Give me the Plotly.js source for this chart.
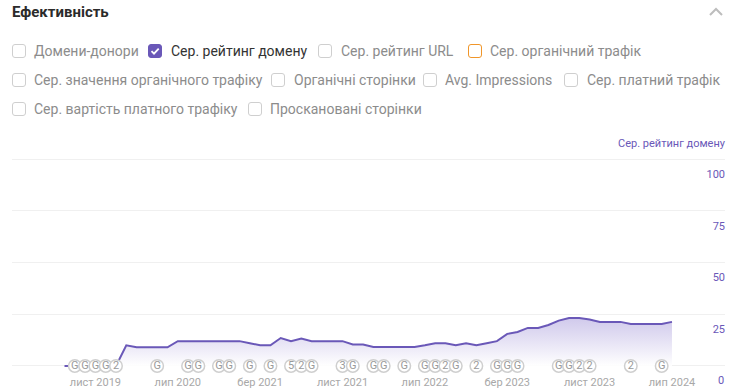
<!DOCTYPE html>
<html><head><meta charset="utf-8">
<script src="https://cdn.plot.ly/plotly-3.0.1.min.js"></script>
<style>
html,body{margin:0;padding:0;background:#fff;width:737px;height:392px;overflow:hidden;font-family:Roboto,Arial,sans-serif}
#chart{position:absolute;left:0;top:0;width:737px;height:392px}
.t{position:absolute;white-space:nowrap;font-size:14px;line-height:18px;color:#8c8c8c}
.b{position:absolute;width:12px;height:12px;border:1px solid #cfcfcf;border-radius:3px;background:#fff}
</style></head><body>
<div id="chart"></div>
<div id="ui"></div>
<script>
const months = ['2019-08','2019-09','2019-10','2019-11','2019-12','2020-01','2020-02','2020-03','2020-04','2020-05','2020-06','2020-07','2020-08','2020-09','2020-10','2020-11','2020-12','2021-01','2021-02','2021-03','2021-04','2021-05','2021-06','2021-07','2021-08','2021-09','2021-10','2021-11','2021-12','2022-01','2022-02','2022-03','2022-04','2022-05','2022-06','2022-07','2022-08','2022-09','2022-10','2022-11','2022-12','2023-01','2023-02','2023-03','2023-04','2023-05','2023-06','2023-07','2023-08','2023-09','2023-10','2023-11','2023-12','2024-01','2024-02','2024-03','2024-04','2024-05','2024-06','2024-07'];
const rating = [0,0,0,0,0,0,10,9,9,9,9,12,12,12,12,12,12,12,11,10,10,13.5,12,13.3,12,12,12,12,10.4,10.4,9.2,9.2,9.2,9.2,9.2,10,11,11,10,11,10,11,12,15.5,16.4,18.4,18.4,19.8,21.9,23.2,23.2,22.5,21.3,21.3,21.3,20.3,20.3,20.3,20.3,21.3];
const tickMonths = ['2019-11','2020-07','2021-03','2021-11','2022-07','2023-03','2023-11','2024-07'];
const tickLabels = ['лист 2019','лип 2020','бер 2021','лист 2021','лип 2022','бер 2023','лист 2023','лип 2024'];
const eventMonths = ['2019-09','2019-10','2019-11','2019-12','2020-01','2020-05','2020-08','2020-09','2020-11','2020-12','2021-02','2021-04','2021-06','2021-07','2021-08','2021-11','2021-12','2022-02','2022-03','2022-05','2022-07','2022-08','2022-09','2022-10','2022-12','2023-02','2023-03','2023-04','2023-08','2023-09','2023-10','2023-11','2024-03','2024-06'];
const eventLabels = ['G','G','G','G','2','G','G','G','G','G','G','G','5','2','G','3','G','G','G','G','G','G','2','G','2','G','G','G','G','G','2','2','2','G'];
const yTicks = [25,50,75,100];
const yZero = 0;
const filters = [
 ['Домени-донори',12,34,51],['Сер. рейтинг домену',148,171,51,'on'],['Сер. рейтинг URL',318,341,51],['Сер. органічний трафік',468,490,51,'or'],
 ['Сер. значення органічного трафіку',12,34,80],['Органічні сторінки',271,294,80],['Avg. Impressions',423,445,80],['Сер. платний трафік',564,587,80],
 ['Сер. вартість платного трафіку',12,34,109],['Проскановані сторінки',248,270,109]];
const purple = '#6a58b8';

const traces = [
 {x:months,y:rating,type:'scatter',mode:'lines',line:{color:purple,width:2},fill:'tozeroy',
  fillgradient:{type:'vertical',colorscale:[[0,'rgba(255,255,255,0.9)'],[1,'rgba(200,192,232,0.85)']]},hoverinfo:'skip'},
 {x:eventMonths,y:eventMonths.map(()=>0),type:'scatter',mode:'markers+text',text:eventLabels,textposition:'middle center',
  textfont:{size:11,color:'#9a9a9a',family:'Roboto, Arial, sans-serif'},
  marker:{size:12.5,color:'#ffffff',line:{color:'#cfcfcf',width:1.5}},cliponaxis:false,hoverinfo:'skip'}
];
const layout = {
 width:737,height:392,margin:{l:12,r:12,t:158,b:25},paper_bgcolor:'rgba(0,0,0,0)',plot_bgcolor:'rgba(0,0,0,0)',showlegend:false,
 xaxis:{type:'category',categoryorder:'array',categoryarray:months,range:[-5.1,64.15],tickmode:'array',tickvals:tickMonths,ticktext:tickLabels,
  showgrid:false,zeroline:false,showline:false,ticks:'',tickangle:0,ticklabelstandoff:7,tickfont:{size:11,color:'#a8a8a8',family:'Roboto, Arial, sans-serif'}},
 yaxis:{range:[-0.5,100.5],side:'right',tickmode:'array',tickvals:yTicks,ticklabelposition:'inside',ticklabelshift:15,ticklabelstandoff:-3,
  gridcolor:'#f0f0f0',gridwidth:1,zeroline:true,zerolinecolor:'#f0f0f0',zerolinewidth:1,showline:false,ticks:'',tickfont:{size:11,color:purple,family:'Roboto, Arial, sans-serif'}},
 annotations:[
  {xref:'paper',yref:'paper',x:1,y:1,yshift:15,xshift:3,xanchor:'right',yanchor:'middle',showarrow:false,text:'Сер. рейтинг домену',
   font:{size:11,color:purple,family:'Roboto, Arial, sans-serif'}},
  {xref:'paper',yref:'y',x:1,y:yZero,yshift:-15,xshift:1,xanchor:'right',yanchor:'middle',showarrow:false,text:String(yZero),
   font:{size:11,color:purple,family:'Roboto, Arial, sans-serif'}}]
};
Plotly.newPlot('chart',traces,layout,{displayModeBar:false,staticPlot:true});

const ui = document.getElementById('ui');
let h = '<div class="t" style="left:12px;top:3px;font-size:15px;font-weight:700;color:#2b2b2b">Ефективність</div>'+
 '<svg style="position:absolute;left:709px;top:7px" width="14" height="10"><path d="M1 8 L7 2 L13 8" fill="none" stroke="#bdbdbd" stroke-width="2"/></svg>';
for (const [name,bx,tx,cy,st] of filters){
  const bs = st==='on' ? `background:${purple};border-color:${purple};` : st==='or' ? 'border-color:#f0962a;' : '';
  h += `<div class="b" style="left:${bx}px;top:${cy-7}px;${bs}">`+(st==='on'?'<svg width="12" height="12" style="display:block"><path d="M2.5 6.2 L5 8.7 L9.7 3.6" fill="none" stroke="#fff" stroke-width="1.8"/></svg>':'')+'</div>';
  h += `<div class="t" style="left:${tx}px;top:${cy-9}px;${st==='on'?'color:#333':''}">${name}</div>`;
}
ui.innerHTML = h;
</script></body></html>
